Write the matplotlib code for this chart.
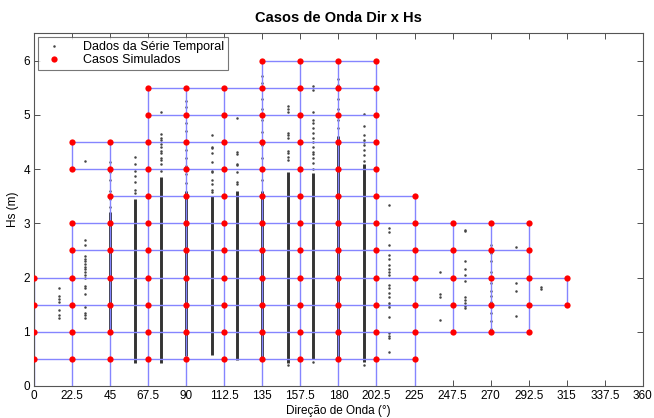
import numpy as np
import matplotlib
matplotlib.use('Agg')
import matplotlib.pyplot as plt

plt.rcParams['font.family'] = ['Liberation Sans', 'DejaVu Sans']

# Casos simulados: direcao -> lista de Hs
dir_sim = [0, 22.5, 45, 67.5, 90, 112.5, 135, 157.5, 180, 202.5, 225, 247.5, 270, 292.5, 315]
hs_sim = [
    [0.5, 1, 1.5, 2],
    [0.5, 1, 1.5, 2, 2.5, 3, 4, 4.5],
    [0.5, 1, 1.5, 2, 2.5, 3, 3.5, 4, 4.5],
    [0.5, 1, 1.5, 2, 2.5, 3, 3.5, 4, 4.5, 5, 5.5],
    [0.5, 1, 1.5, 2, 2.5, 3, 3.5, 4, 4.5, 5, 5.5],
    [0.5, 1, 1.5, 2, 2.5, 3, 3.5, 4, 4.5, 5, 5.5],
    [0.5, 1, 1.5, 2, 2.5, 3, 3.5, 4, 4.5, 5, 5.5, 6],
    [0.5, 1, 1.5, 2, 2.5, 3, 3.5, 4, 4.5, 5, 5.5, 6],
    [0.5, 1, 1.5, 2, 2.5, 3, 3.5, 4, 4.5, 5, 5.5, 6],
    [0.5, 1, 1.5, 2, 2.5, 3, 3.5, 4, 4.5, 5, 5.5, 6],
    [0.5, 1, 1.5, 2, 2.5, 3, 3.5],
    [1, 1.5, 2, 2.5, 3],
    [1, 1.5, 2, 2.5, 3],
    [1, 1.5, 2, 2.5, 3],
    [1.5, 2],
]

# Serie temporal: trechos densos (direcao, Hs min, Hs max)
dense_dir = [45, 60, 75, 90, 105, 120, 135, 150, 165, 180, 195]
dense_lo = [1.0, 0.42, 0.42, 0.55, 0.57, 0.48, 0.5, 0.42, 0.5, 0.5, 0.45]
dense_hi = [3.2, 3.45, 3.85, 3.6, 3.5, 3.6, 3.6, 3.95, 3.92, 4.6, 4.1]

# Serie temporal: pontos esparsos
sparse = {
    15: [1.25, 1.30, 1.40, 1.55, 1.60, 1.65, 1.80],
    30: [1.25, 1.30, 1.35, 1.45, 1.70, 1.80, 1.85, 2.00, 2.05, 2.10, 2.15, 2.20,
         2.25, 2.30, 2.35, 2.40, 2.60, 2.70, 4.15],
    45: [3.3, 3.45, 3.6, 3.8, 3.95, 4.13],
    60: [3.55, 3.62, 3.76, 3.88, 3.97, 4.1, 4.23],
    75: [3.97, 4.1, 4.16, 4.2, 4.29, 4.34, 4.4, 4.47, 4.53, 4.58, 4.65, 5.06],
    90: [3.75, 3.9, 4.05, 4.2, 4.35, 4.5, 4.7, 4.85, 5.0, 5.15, 5.26],
    105: [3.58, 3.61, 3.73, 3.79, 3.95, 3.97, 4.13, 4.29, 4.38, 4.4, 4.63],
    120: [3.73, 3.76, 3.95, 4.07, 4.1, 4.28, 4.31, 4.94],
    135: [3.8, 4.0, 4.2, 4.45, 4.68, 4.9, 5.1, 5.3, 5.58, 5.72],
    150: [0.39, 4.16, 4.22, 4.29, 4.34, 4.58, 4.62, 4.66, 5.05, 5.1, 5.17],
    165: [0.45, 4.0, 4.12, 4.2, 4.27, 4.32, 4.4, 4.5, 4.57, 4.66, 4.75, 4.84,
          4.9, 5.05, 5.45, 5.54],
    180: [4.75, 4.9, 5.1, 5.3, 5.55, 5.66],
    195: [0.39, 4.15, 4.25, 4.35, 4.45, 4.5, 4.53, 4.62, 4.8, 5.02],
    210: [0.63, 0.88, 0.92, 0.97, 1.27, 1.46, 1.50, 1.53, 1.64, 1.71, 1.80, 1.86,
          2.04, 2.10, 2.15, 2.23, 2.35, 2.41, 2.60, 2.84, 2.91, 3.33],
    240: [1.21, 1.64, 1.69, 2.10],
    255: [1.43, 1.48, 1.53, 1.58, 1.64, 1.93, 2.04, 2.15, 2.30, 2.85, 2.88],
    270: [1.05, 1.2, 1.35, 1.45, 1.55, 1.65, 1.75, 1.9, 2.1, 2.3, 2.45, 2.6],
    285: [1.29, 1.75, 1.90, 2.56],
    300: [1.79, 1.82],
}

xticks = [0, 22.5, 45, 67.5, 90, 112.5, 135, 157.5, 180, 202.5, 225, 247.5, 270,
          292.5, 315, 337.5, 360]
xticklabels = ['0', '22.5', '45', '67.5', '90', '112.5', '135', '157.5', '180',
               '202.5', '225', '247.5', '270', '292.5', '315', '337.5', '360']

fig = plt.figure(figsize=(6.54, 4.18), dpi=100)
ax = fig.add_axes([0.052, 0.0766, 0.931, 0.8434])

# dados da serie temporal
ax.vlines(dense_dir, dense_lo, dense_hi, colors='#333333', linewidth=2.1, zorder=1)
sx = []
sy = []
for d, vals in sparse.items():
    sx += [d] * len(vals)
    sy += vals
ax.plot(sx, sy, '.', color='#444444', markersize=1.6, zorder=1,
        label='Dados da Série Temporal')

# malha dos casos simulados
line_color = '#8585ff'
for d, levels in zip(dir_sim, hs_sim):
    col = list(levels)
    if col[0] == 0.5:
        col = [0] + col
    for a, b in zip(col[:-1], col[1:]):
        if abs(b - a - 0.5) < 1e-9:
            ax.plot([d, d], [a, b], color=line_color, linewidth=1.0, zorder=2)
for i in range(len(dir_sim) - 1):
    common = set(hs_sim[i]) & set(hs_sim[i + 1])
    for h in common:
        ax.plot([dir_sim[i], dir_sim[i + 1]], [h, h], color=line_color,
                linewidth=1.0, zorder=2)

px = []
py = []
for d, levels in zip(dir_sim, hs_sim):
    px += [d] * len(levels)
    py += levels
ax.plot(px, py, 'o', color='red', markersize=4.5, markeredgewidth=0, zorder=3,
        label='Casos Simulados')

ax.set_xlim(0, 360)
ax.set_ylim(0, 6.5)
ax.set_xticks(xticks)
ax.set_xticklabels(xticklabels)
ax.set_yticks([0, 1, 2, 3, 4, 5, 6])
ax.tick_params(direction='in', top=True, right=True, length=4, width=0.6,
               colors='#333333', labelcolor='black', labelsize=8.5, pad=3)
for s in ax.spines.values():
    s.set_color('#555555')
    s.set_linewidth(0.8)

ax.set_title('Casos de Onda Dir x Hs', fontsize=10.5, fontweight='bold', pad=8)
ax.set_xlabel('Direção de Onda (°)', fontsize=8.5, labelpad=2)
ax.set_ylabel('Hs (m)', fontsize=8.5, labelpad=3)

leg = ax.legend(loc='upper left', fontsize=9, frameon=True, fancybox=False,
                borderpad=0.3, labelspacing=0.1, handletextpad=1.3,
                borderaxespad=0.3, markerscale=1.0)
leg.get_frame().set_edgecolor('#555555')
leg.get_frame().set_linewidth(0.8)

fig.savefig('out.png', dpi=100)
